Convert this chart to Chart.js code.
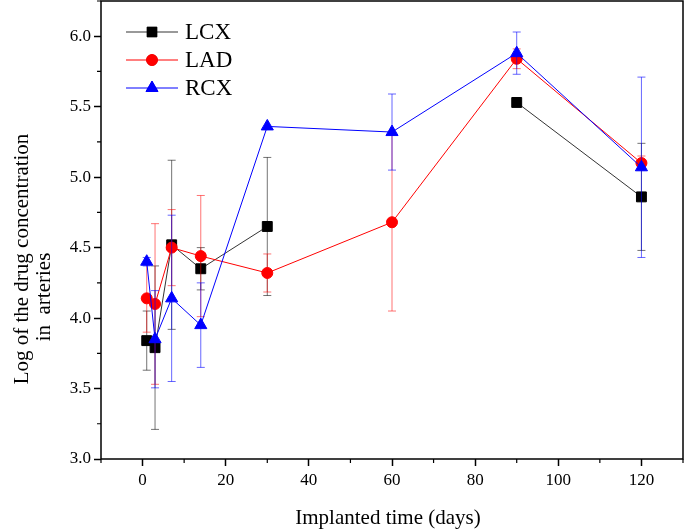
<!DOCTYPE html>
<html>
<head>
<meta charset="utf-8">
<script src="https://cdn.jsdelivr.net/npm/chart.js@4/dist/chart.umd.min.js"></script>
<style>
  body { margin: 0; background: #fff; }
  #wrap { width: 685px; height: 531px; }
</style>
</head>
<body>
<div id="wrap"><canvas id="drugChart" width="685" height="531"></canvas></div>
<script>
// implanted days
const days = [1, 3, 7, 14, 30, 60, 90, 120];

// log drug concentration per artery, with +/- error
const lcx = [3.84, 3.79, 4.52, 4.35, 4.65, null, 5.53, 4.86];
const lcxErr = [0.21, 0.58, 0.60, 0.15, 0.49, null, 0, 0.38];
const lad = [4.14, 4.10, 4.50, 4.44, 4.32, 4.68, 5.84, 5.10];
const ladErr = [0.24, 0.57, 0.27, 0.43, 0.135, 0.63, 0.07, 0.05];
const rcx = [4.40, 3.85, 4.14, 3.95, 5.36, 5.32, 5.88, 5.07];
const rcxErr = [0.03, 0.345, 0.59, 0.30, 0, 0.27, 0.15, 0.64];

const xTicks = [0, 20, 40, 60, 80, 100, 120];
const xMinor = [-10, 10, 30, 50, 70, 90, 110, 130];
const yTicks = [3.0, 3.5, 4.0, 4.5, 5.0, 5.5, 6.0];
const yMinor = [3.25, 3.75, 4.25, 4.75, 5.25, 5.75, 6.25];

const SERIF = "'Liberation Serif', 'Times New Roman', serif";

function toPoints(vals, errs) {
    return days.map((d, i) => ({ x: d, y: vals[i], err: errs[i] }));
}

// error bars drawn just before each dataset
const errorBars = {
    id: 'errorBars',
    beforeDatasetDraw(chart, args) {
        const ds = chart.data.datasets[args.index];
        const xs = chart.scales.x, ys = chart.scales.y;
        const ctx = chart.ctx;
        ctx.save();
        ctx.strokeStyle = ds.errColor;
        ctx.lineWidth = 1;
        ds.data.forEach(p => {
            if (p.y == null || !p.err) return;
            const px = xs.getPixelForValue(p.x);
            const top = ys.getPixelForValue(p.y + p.err);
            const bot = ys.getPixelForValue(p.y - p.err);
            ctx.beginPath();
            ctx.moveTo(px, top); ctx.lineTo(px, bot);
            ctx.moveTo(px - 4, top); ctx.lineTo(px + 4, top);
            ctx.moveTo(px - 4, bot); ctx.lineTo(px + 4, bot);
            ctx.stroke();
        });
        ctx.restore();
    }
};

// frame, minor ticks, titles and legend
const decorations = {
    id: 'decorations',
    afterDraw(chart) {
        const ctx = chart.ctx;
        const a = chart.chartArea;
        const xs = chart.scales.x, ys = chart.scales.y;
        ctx.save();
        ctx.strokeStyle = '#000';
        ctx.lineWidth = 1.5;
        ctx.strokeRect(a.left, a.top, a.right - a.left, a.bottom - a.top);

        ctx.lineWidth = 1.2;
        ctx.beginPath();
        xMinor.forEach(v => {
            const px = xs.getPixelForValue(v);
            ctx.moveTo(px, a.bottom); ctx.lineTo(px, a.bottom + 4);
        });
        yMinor.forEach(v => {
            const py = ys.getPixelForValue(v);
            ctx.moveTo(a.left, py); ctx.lineTo(a.left - 4, py);
        });
        ctx.stroke();

        ctx.fillStyle = '#000';
        ctx.font = '21px ' + SERIF;
        ctx.textAlign = 'center';
        ctx.textBaseline = 'middle';
        ctx.fillText('Implanted time (days)', 388, 518);

        ctx.save();
        ctx.translate(22, 259);
        ctx.rotate(-Math.PI / 2);
        ctx.fillText('Log of the drug concentration', 0, 0);
        ctx.restore();
        ctx.save();
        ctx.translate(44, 297);
        ctx.rotate(-Math.PI / 2);
        ctx.fillText('in  arteries', 0, 0);
        ctx.restore();

        // legend
        ctx.font = '23px ' + SERIF;
        ctx.textAlign = 'left';
        chart.data.datasets.forEach((ds, i) => {
            const y = 32 + i * 28;
            ctx.strokeStyle = ds.borderColor;
            ctx.lineWidth = 1;
            ctx.beginPath();
            ctx.moveTo(126, y); ctx.lineTo(178, y);
            ctx.stroke();
            Chart.helpers.drawPoint(ctx, {
                pointStyle: ds.pointStyle, radius: ds.pointRadius, borderWidth: 1
            }, 152, y);
            ctx.fillStyle = ds.pointBackgroundColor;
            ctx.strokeStyle = ds.pointBackgroundColor;
            ctx.fill();
            ctx.fillStyle = '#000';
            ctx.fillText(ds.label, 185, y + 1);
        });
        ctx.restore();
    }
};

new Chart(document.getElementById('drugChart'), {
    type: 'line',
    data: {
        datasets: [
            {
                label: 'LCX', data: toPoints(lcx, lcxErr), order: 3,
                borderColor: 'rgba(0,0,0,0.8)', borderWidth: 1,
                pointStyle: 'rect', pointRadius: 7,
                pointBackgroundColor: '#000', pointBorderColor: '#000',
                errColor: 'rgba(0,0,0,0.55)'
            },
            {
                label: 'LAD', data: toPoints(lad, ladErr), order: 2,
                borderColor: '#ff0000', borderWidth: 1,
                pointStyle: 'circle', pointRadius: 5.5,
                pointBackgroundColor: '#ff0000', pointBorderColor: '#ff0000',
                errColor: 'rgba(255,0,0,0.55)'
            },
            {
                label: 'RCX', data: toPoints(rcx, rcxErr), order: 1,
                borderColor: '#0000ff', borderWidth: 1,
                pointStyle: 'triangle', pointRadius: 7,
                pointBackgroundColor: '#0000ff', pointBorderColor: '#0000ff',
                errColor: 'rgba(0,0,255,0.6)'
            }
        ]
    },
    options: {
        responsive: false,
        animation: false,
        spanGaps: false,
        layout: { autoPadding: false, padding: { top: 1, right: 2, left: 0, bottom: 0 } },
        plugins: { legend: { display: false }, tooltip: { enabled: false } },
        scales: {
            x: {
                type: 'linear', min: -10, max: 130,
                afterBuildTicks: s => { s.ticks = xTicks.map(v => ({ value: v })); },
                afterFit: s => { s.height = 72; s.paddingLeft = 0; s.paddingRight = 0; },
                ticks: {
                    color: '#000', font: { family: SERIF, size: 17 }, padding: 4,
                    maxRotation: 0, autoSkip: false, callback: v => String(v)
                },
                grid: { drawOnChartArea: false, tickLength: 7, tickColor: '#000', tickWidth: 1.5 },
                border: { display: false }
            },
            y: {
                type: 'linear', min: 3, max: 6.25,
                afterBuildTicks: s => { s.ticks = yTicks.map(v => ({ value: v })); },
                afterFit: s => { s.width = 101; s.paddingTop = 0; s.paddingBottom = 0; },
                ticks: {
                    color: '#000', font: { family: SERIF, size: 17 }, padding: 3,
                    autoSkip: false, callback: v => v.toFixed(1)
                },
                grid: { drawOnChartArea: false, tickLength: 7, tickColor: '#000', tickWidth: 1.5 },
                border: { display: false }
            }
        }
    },
    plugins: [errorBars, decorations]
});
</script>
</body>
</html>
